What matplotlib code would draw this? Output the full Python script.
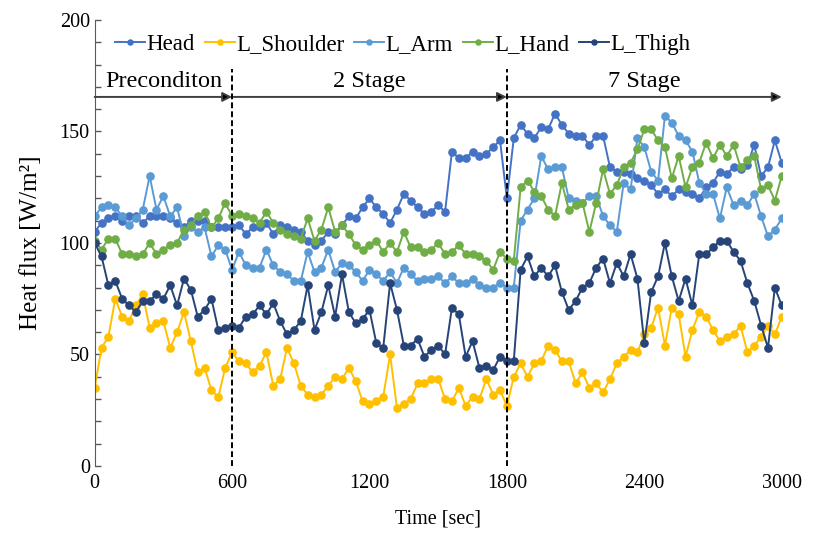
import numpy as np
import matplotlib
matplotlib.use("Agg")
import matplotlib.pyplot as plt

# time axis: one reading every 30 s
time_sec = np.arange(0, 3001, 30)

head = [105, 109, 111, 112, 110, 112, 112, 109, 112, 112, 112, 111, 109, 107, 110, 110, 110,
        107, 107, 107, 107, 108, 104, 107, 107, 109, 104, 108, 107, 106, 105, 101, 99, 101,
        105, 104, 108, 112, 111, 116, 120, 116, 113, 109, 115, 122, 119, 116, 113, 114, 117, 114,
        141, 138, 138, 141, 139, 140, 143, 146,
        120,
        147, 153, 149, 147, 152, 151, 158, 153, 149, 148, 148, 144, 148, 148,
        134, 132, 132, 131, 129, 128, 126, 122,
        124, 121, 124, 123, 122, 120, 125, 127, 132, 131, 134, 133, 135, 144, 130, 134, 146, 136]

l_shoulder = [35, 53, 58, 75, 67, 65, 72, 77, 62, 64, 65, 53, 60, 69, 56, 42, 44, 34, 31, 44, 51,
              47, 46, 42, 45, 51, 36, 39, 53, 46, 36, 32, 31, 32, 36, 40, 39, 44, 38, 29, 28, 29, 31,
              50, 26, 28, 30, 37, 37, 39, 39, 30, 29, 35, 27, 31, 30, 39, 32, 34, 27,
              40, 46, 40, 46, 47, 54, 52, 47, 47, 37, 42, 35, 37, 33, 39, 46, 49, 52, 51, 59, 62, 71,
              54, 71, 68, 49, 61, 69, 67, 61, 56, 58, 59, 63, 51, 54, 58, 63, 59, 67]

l_arm = [112, 116, 117, 116, 112, 108, 111, 115, 130, 115, 121, 112, 116, 103, 107, 105, 107, 94, 99, 97, 88,
         96, 90, 89, 89, 97, 90, 87, 86, 83, 83, 96, 87, 89,
         97, 87, 91, 90, 87, 83, 88, 86, 83, 87, 82, 89, 86, 83, 84, 84,
         85, 82, 85, 82, 82, 84, 81, 80, 80, 82, 80, 80,
         110, 115, 120, 139, 133, 134, 134, 120, 119, 118, 121, 121, 112, 108, 105, 127, 124, 147, 143, 132, 128,
         157, 154, 148, 146, 141, 127, 122, 122, 111, 125, 117, 119, 117, 122, 112, 103, 106, 111]

l_hand = [101, 97, 102, 102, 95, 95, 94, 95, 100, 95, 97, 99, 100, 106, 108, 112, 114, 107, 111, 118, 112,
          113, 112, 111, 109, 114, 109, 106, 104, 103, 102, 111, 101, 106,
          116, 105, 108, 104, 99, 97, 99, 101, 96, 100, 96, 105, 98, 98, 96, 97,
          100, 95, 96, 99, 95, 95, 94, 92, 88, 96, 93, 92,
          125, 128, 123, 121, 115, 112, 127, 115, 117, 118, 105, 118, 133, 122, 126, 134, 136, 142, 151, 151, 146,
          143, 129, 139, 125, 134, 136, 145, 138, 144, 139, 144, 134, 137, 139, 124, 126, 119, 130]

l_thigh = [100, 94, 81, 83, 75, 72, 69, 74, 74, 77, 75, 81, 72, 84, 79, 67, 70, 75, 61, 62, 63,
           62, 67, 68, 72, 68, 73, 65, 59, 61, 65, 81, 61, 69,
           81, 67, 86, 69, 64, 66, 70, 55, 53, 82, 70, 54, 54, 57, 49, 52,
           54, 50, 71, 68, 49, 56, 44, 45, 43, 49, 47, 47,
           88, 94, 85, 89, 85, 90, 78, 70, 74, 80, 82, 89, 93, 82, 91, 85, 95, 84, 55, 78, 85,
           100, 85, 74, 84, 72, 95, 95, 98, 101, 101, 96, 92, 82, 74, 63, 53, 80, 72]

series_names = ["Head", "L_Shoulder", "L_Arm", "L_Hand", "L_Thigh"]
series_colors = ["#4472C4", "#FFC000", "#5B9BD5", "#70AD47", "#264478"]

stage_bounds = [0, 600, 1800, 3000]
stage_labels = ["Preconditon", "2 Stage", "7 Stage"]

plt.rcParams["font.family"] = ["Liberation Serif", "DejaVu Serif"]
plt.rcParams["font.size"] = 14

fig = plt.figure(figsize=(8.16, 5.36), dpi=100)
ax = fig.add_axes([0.116, 0.1306, 0.842, 0.8321])

for name, vals, col in zip(series_names, [head, l_shoulder, l_arm, l_hand, l_thigh], series_colors):
    ax.plot(time_sec, vals, color=col, lw=1.4, marker="o", ms=5.2, label=name)

# stage boundaries and arrows
for xb in stage_bounds[1:3]:
    ax.plot([xb, xb], [0, 178], color="black", lw=1.4, ls=(0, (3, 1.6)), zorder=5)
for (x0, x1), lab in zip(zip(stage_bounds[:-1], stage_bounds[1:]), stage_labels):
    ax.annotate("", xy=(x1, 165.5), xytext=(x0, 165.5),
                arrowprops=dict(arrowstyle="-|>", color="#404040", lw=1.4,
                                mutation_scale=14, shrinkA=0, shrinkB=0, fc="black"))
    ax.text((x0 + x1) / 2, 167.5, lab, ha="center", va="bottom", fontsize=17.5)

ax.set_xlim(0, 3000)
ax.set_ylim(0, 200)
ax.set_xticks(range(0, 3001, 600))
ax.set_yticks(range(0, 201, 50))
ax.set_yticks(range(0, 201, 10), minor=True)
ax.tick_params(axis="y", which="both", direction="in", length=4, width=1, color="#595959")
ax.tick_params(axis="x", which="both", length=0, pad=6)
ax.tick_params(labelsize=14.5)
for side in ["top", "right", "bottom"]:
    ax.spines[side].set_visible(False)
ax.spines["left"].set_color("#595959")

ax.set_xlabel("Time [sec]", fontsize=14.5, labelpad=12)
ax.set_ylabel("Heat flux [W/m²]", fontsize=18, labelpad=13)

ax.legend(loc="upper left", bbox_to_anchor=(0.01, 1.0), ncol=5, frameon=False,
          fontsize=16.5, handlelength=1.3, handletextpad=0.05, columnspacing=0.45,
          borderaxespad=0.2, markerscale=0.7)

fig.savefig("out.png", dpi=100)
